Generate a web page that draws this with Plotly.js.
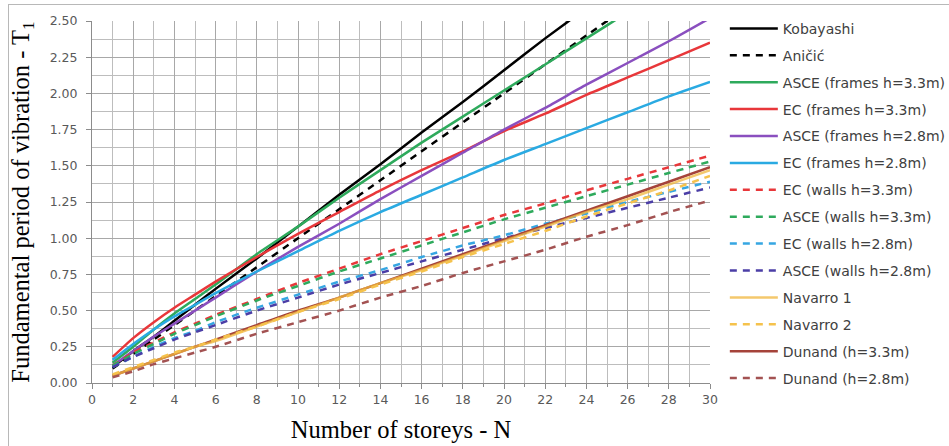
<!DOCTYPE html>
<html>
<head>
<meta charset="utf-8">
<script src="https://cdn.plot.ly/plotly-3.0.1.min.js"></script>
<style>
  html, body { margin: 0; padding: 0; background: #ffffff; }
  #wrap { position: relative; width: 949px; height: 446px; overflow: hidden; }
  #frame { position: absolute; left: 8px; top: 4px; width: 960px; height: 460px; border-left: 1px solid #b8b8b8; border-top: 1px solid #b8b8b8; pointer-events: none; }
  #chart { position: absolute; left: 0; top: 0; width: 949px; height: 446px; }
</style>
</head>
<body>
<div id="wrap">
  <div id="chart"></div>
  <div id="frame"></div>
</div>
<script>
// Number of storeys (sample points)
const storeys = [1, 2, 3, 4, 5, 6, 8, 10, 12, 14, 16, 18, 20, 22, 24, 26, 28, 30];

// Fundamental period T1 for each method
const kobayashi      = [0.11, 0.22, 0.32, 0.43, 0.54, 0.65, 0.86, 1.08, 1.30, 1.51, 1.73, 1.94, 2.16, 2.38, 2.59, 2.81, 3.02, 3.24];
const anicic         = [0.10, 0.20, 0.30, 0.40, 0.50, 0.60, 0.80, 1.00, 1.20, 1.40, 1.60, 1.80, 2.00, 2.20, 2.40, 2.60, 2.80, 3.00];
const asceFrames33   = [0.14, 0.25, 0.37, 0.48, 0.58, 0.68, 0.89, 1.08, 1.28, 1.47, 1.66, 1.84, 2.02, 2.20, 2.38, 2.56, 2.74, 2.91];
const ecFrames33     = [0.18, 0.31, 0.42, 0.52, 0.61, 0.70, 0.87, 1.03, 1.18, 1.33, 1.47, 1.60, 1.74, 1.86, 1.99, 2.11, 2.23, 2.35];
const asceFrames28   = [0.12, 0.22, 0.32, 0.41, 0.50, 0.59, 0.77, 0.94, 1.10, 1.27, 1.43, 1.59, 1.75, 1.90, 2.06, 2.21, 2.36, 2.52];
const ecFrames28     = [0.16, 0.27, 0.37, 0.46, 0.54, 0.62, 0.77, 0.91, 1.05, 1.18, 1.30, 1.42, 1.54, 1.65, 1.76, 1.87, 1.98, 2.08];
const ecWalls33      = [0.12, 0.21, 0.28, 0.35, 0.41, 0.47, 0.58, 0.69, 0.79, 0.89, 0.98, 1.07, 1.16, 1.24, 1.33, 1.41, 1.49, 1.57];
const asceWalls33    = [0.12, 0.20, 0.27, 0.34, 0.40, 0.46, 0.57, 0.67, 0.77, 0.86, 0.95, 1.04, 1.13, 1.21, 1.29, 1.37, 1.45, 1.53];
const ecWalls28      = [0.11, 0.18, 0.25, 0.31, 0.36, 0.42, 0.52, 0.61, 0.70, 0.78, 0.87, 0.95, 1.02, 1.10, 1.17, 1.25, 1.32, 1.39];
const asceWalls28    = [0.11, 0.18, 0.24, 0.30, 0.35, 0.40, 0.50, 0.59, 0.68, 0.76, 0.84, 0.92, 1.00, 1.07, 1.14, 1.21, 1.28, 1.35];
const navarro1       = [0.05, 0.10, 0.15, 0.20, 0.25, 0.29, 0.39, 0.49, 0.59, 0.69, 0.78, 0.88, 0.98, 1.08, 1.18, 1.27, 1.37, 1.47];
const navarro2       = [0.06, 0.11, 0.16, 0.21, 0.25, 0.30, 0.39, 0.49, 0.58, 0.68, 0.77, 0.87, 0.96, 1.05, 1.15, 1.24, 1.33, 1.43];
const dunand33       = [0.05, 0.10, 0.15, 0.20, 0.25, 0.30, 0.40, 0.50, 0.59, 0.69, 0.79, 0.89, 0.99, 1.09, 1.19, 1.29, 1.39, 1.49];
const dunand28       = [0.04, 0.08, 0.13, 0.17, 0.21, 0.25, 0.34, 0.42, 0.50, 0.59, 0.67, 0.76, 0.84, 0.92, 1.01, 1.09, 1.18, 1.26];

const seriesNames = [
  "Kobayashi", "Aničić", "ASCE (frames h=3.3m)", "EC (frames h=3.3m)",
  "ASCE (frames h=2.8m)", "EC (frames h=2.8m)", "EC (walls h=3.3m)",
  "ASCE (walls h=3.3m)", "EC (walls h=2.8m)", "ASCE (walls h=2.8m)",
  "Navarro 1", "Navarro 2", "Dunand (h=3.3m)", "Dunand (h=2.8m)"
];
const seriesValues = [
  kobayashi, anicic, asceFrames33, ecFrames33, asceFrames28, ecFrames28,
  ecWalls33, asceWalls33, ecWalls28, asceWalls28, navarro1, navarro2, dunand33, dunand28
];
const seriesColors = [
  "#000000", "#000000", "#2eaa5c", "#e8373a", "#8a4fbf", "#2aaae2",
  "#e8373a", "#2eaa5c", "#36a6e2", "#4b3ea6", "#f0b63c", "#f5c24c", "#a5433a", "#a35252"
];
const seriesDash = [
  "solid", "7px,6px", "solid", "solid", "solid", "solid",
  "7px,6px", "7px,6px", "7px,6px", "7px,6px", "solid", "7px,6px", "solid", "7px,6px"
];
const seriesOpacity = [1, 1, 1, 1, 1, 1, 1, 1, 1, 1, 0.75, 1, 1, 1];
// drawing order (Dunand h=3.3m drawn under Navarro 1); legend keeps the reference order via legendrank
const drawOrder = [0, 1, 2, 3, 4, 5, 6, 7, 8, 9, 12, 10, 11, 13];

const traces = drawOrder.map((i) => ({
  type: "scatter",
  mode: "lines",
  x: storeys,
  y: seriesValues[i],
  name: seriesNames[i],
  legendgroup: "g" + i,
  legendrank: i + 1,
  opacity: seriesOpacity[i],
  line: { color: seriesColors[i], width: 2.5, dash: seriesDash[i], shape: "spline", smoothing: 0.6 }
}));

const tickFont = { family: "DejaVu Sans, Verdana, sans-serif", size: 12.5, color: "#595959" };
const titleFont = { family: "Liberation Serif, Times New Roman, serif", size: 24.5, color: "#000000" };

const layout = {
  width: 949,
  height: 446,
  paper_bgcolor: "rgba(0,0,0,0)",
  plot_bgcolor: "#ffffff",
  margin: { l: 92, r: 239, t: 21, b: 63, autoexpand: false },
  showlegend: true,
  legend: {
    x: 1.024, xanchor: "left", xref: "paper",
    y: 1.0226, yanchor: "top", yref: "paper",
    maxheight: 440,
    itemwidth: 48,
    font: { family: "DejaVu Sans, Verdana, sans-serif", size: 14, color: "#404040" },
    tracegroupgap: 5.7,
    bgcolor: "rgba(0,0,0,0)"
  },
  xaxis: {
    range: [0, 30],
    dtick: 2,
    tick0: 0,
    showgrid: true,
    gridcolor: "#a8a8a8",
    gridwidth: 1,
    minor: { dtick: 1, showgrid: true, gridcolor: "#bdbdbd", ticks: "outside", ticklen: 3, tickcolor: "#8c8c8c" },
    ticks: "outside",
    ticklen: 5,
    tickcolor: "#8c8c8c",
    showline: true,
    linecolor: "#8c8c8c",
    linewidth: 1,
    zeroline: false,
    tickfont: tickFont,
    title: { text: "Number of storeys - N", font: titleFont, standoff: 14 }
  },
  yaxis: {
    range: [0, 2.5],
    dtick: 0.25,
    tick0: 0,
    tickformat: ".2f",
    showgrid: true,
    gridcolor: "#a8a8a8",
    gridwidth: 1,
    minor: { dtick: 0.125, showgrid: true, gridcolor: "#bdbdbd" },
    ticks: "outside",
    ticklen: 5,
    tickcolor: "#8c8c8c",
    ticklabelstandoff: 6,
    showline: true,
    linecolor: "#8c8c8c",
    linewidth: 1,
    zeroline: false,
    tickfont: tickFont,
    title: { text: "Fundamental period of vibration - T<sub>1</sub>", font: titleFont, standoff: 13 }
  }
};

Plotly.newPlot("chart", traces, layout, { displayModeBar: false, staticPlot: true });
</script>
</body>
</html>
